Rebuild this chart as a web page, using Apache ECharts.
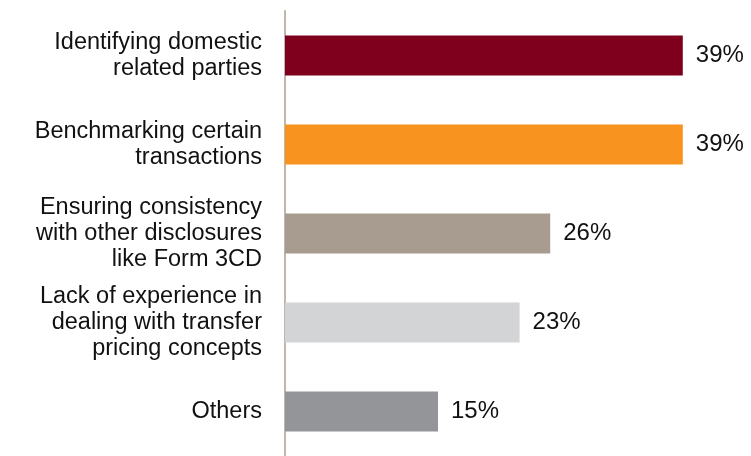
<!DOCTYPE html>
<html>
<head>
<meta charset="utf-8">
<title>Transfer pricing challenges</title>
<script src="https://cdn.jsdelivr.net/npm/echarts@6/dist/echarts.min.js"></script>
<style>
  html, body { margin: 0; padding: 0; background: #ffffff; }
  #chart { width: 751px; height: 456px; }
</style>
</head>
<body>
<div id="chart"></div>
<script>
// Challenges (top to bottom) and the share of respondents citing each
const categories = [
  'Identifying domestic\nrelated parties',
  'Benchmarking certain\ntransactions',
  'Ensuring consistency\nwith other disclosures\nlike Form 3CD',
  'Lack of experience in\ndealing with transfer\npricing concepts',
  'Others'
];
const shares = [39, 39, 26, 23, 15];

// One fill per bar
const barColors = ['#7f001c', '#f7931e', '#a89b8f', '#d3d4d6', '#939598'];

const chart = echarts.init(document.getElementById('chart'), null, { renderer: 'canvas' });

const font = 'Helvetica, Arial, "Liberation Sans", sans-serif';

chart.setOption({
  backgroundColor: '#ffffff',
  animation: false,
  grid: { left: 285, right: 7, top: 11, height: 450 },
  xAxis: {
    type: 'value',
    min: 0,
    max: 45,
    show: false
  },
  yAxis: {
    type: 'category',
    data: categories,
    inverse: true,
    axisLine: { show: true, lineStyle: { color: '#bfb6ad', width: 2 } },
    axisTick: { show: false },
    splitLine: { show: false },
    axisLabel: {
      fontFamily: font,
      fontSize: 23.5,
      lineHeight: 26,
      color: '#111111',
      align: 'right',
      margin: 23
    }
  },
  series: [{
    type: 'bar',
    barWidth: 40,
    data: shares.map((v, i) => ({ value: v, itemStyle: { color: barColors[i] } })),
    label: {
      show: true,
      position: 'right',
      distance: 13,
      formatter: '{c}%',
      fontFamily: font,
      fontSize: 24,
      color: '#111111'
    }
  }]
});
</script>
</body>
</html>
